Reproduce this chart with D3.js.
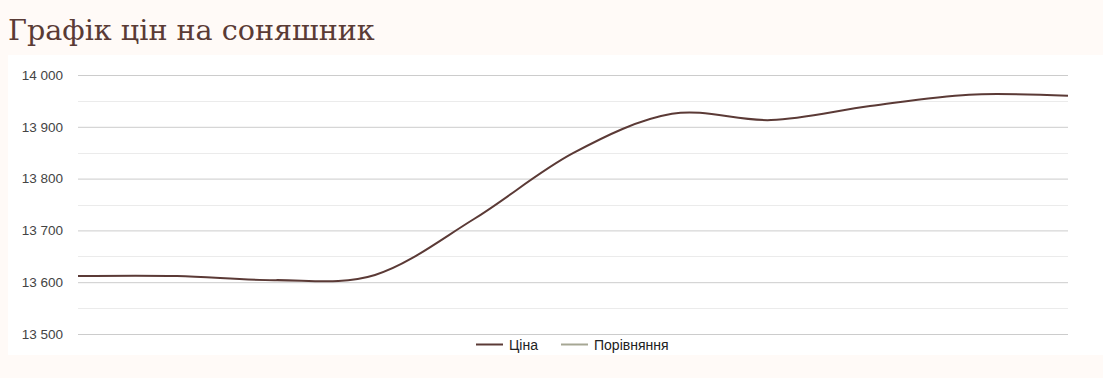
<!DOCTYPE html>
<html>
<head>
<meta charset="utf-8">
<script src="https://cdn.jsdelivr.net/npm/d3@7"></script>
<style>
  body { margin: 0; background: #fffaf7; }
  svg { display: block; }
</style>
</head>
<body>
<svg width="1103" height="378"></svg>
<script>
// price points (evenly spaced, no x labels shown)
var points = ["1", "2", "3", "4", "5", "6", "7", "8", "9", "10", "11"];
var prices = [13612, 13612, 13604, 13614, 13722, 13849, 13925, 13913, 13940, 13962, 13960];
var yTicks = [13500, 13600, 13700, 13800, 13900, 14000];
var seriesNames = ["Ціна", "Порівняння"];
var seriesColors = ["#5b3a36", "#a6a794"];

var title = "Графік цін на соняшник";

var svg = d3.select("svg");
var width = +svg.attr("width"),
    height = +svg.attr("height");

var margin = {left: 78, right: 35, top: 75, bottom: 44};

// chart panel
svg.append("rect")
    .attr("x", 8).attr("y", 55)
    .attr("width", width - 8).attr("height", 300)
    .attr("fill", "#fff");

var t = svg.append("text")
    .attr("x", 8).attr("y", 40)
    .attr("fill", "#5a3b35")
    .style("font-family", "'DejaVu Serif', serif")
    .style("font-size", "28px")
    .text(title);
// fit title to the width it has in the original
var tw = t.node().getComputedTextLength();
t.style("font-size", (28 * 367 / tw) + "px");

var x = d3.scalePoint()
    .domain(points)
    .range([margin.left, width - margin.right]);

var y = d3.scaleLinear()
    .domain([13500, 14000])
    .range([height - margin.bottom, margin.top]);

// minor gridlines
var minor = yTicks.slice(1).map(function(d) { return d - 50; });
svg.append("g").selectAll("line")
    .data(minor)
  .enter().append("line")
    .attr("x1", margin.left).attr("x2", width - margin.right)
    .attr("y1", function(d) { return Math.round(y(d)) + 0.5; })
    .attr("y2", function(d) { return Math.round(y(d)) + 0.5; })
    .attr("stroke", "#ebebeb");

// major gridlines + labels
var yAxis = d3.axisLeft(y)
    .tickValues(yTicks)
    .tickSize(-(width - margin.left - margin.right))
    .tickPadding(15)
    .tickFormat(function(d) { return d3.format(",")(d).replace(",", " "); });

var ga = svg.append("g")
    .attr("transform", "translate(" + margin.left + ",0)")
    .call(yAxis);
ga.select(".domain").remove();
ga.selectAll(".tick line").attr("stroke", "#cccccc");
ga.selectAll(".tick text")
    .attr("fill", "#444")
    .style("font-family", "'Liberation Sans', Arial, sans-serif")
    .style("font-size", "13.5px");

// price line
var line = d3.line()
    .x(function(d, i) { return x(points[i]); })
    .y(function(d) { return y(d); })
    .curve(d3.curveCardinal.tension(0));

svg.append("path")
    .datum(prices)
    .attr("d", line)
    .attr("fill", "none")
    .attr("stroke", seriesColors[0])
    .attr("stroke-width", 2);

// legend
var legendX = [476, 561];
var lg = svg.append("g").selectAll("g")
    .data(seriesNames)
  .enter().append("g")
    .attr("transform", function(d, i) { return "translate(" + legendX[i] + ",345)"; });
lg.append("line")
    .attr("x1", 0).attr("x2", 27)
    .attr("y1", -0.5).attr("y2", -0.5)
    .attr("stroke", function(d, i) { return seriesColors[i]; })
    .attr("stroke-width", 2);
lg.append("text")
    .attr("x", 33).attr("y", 5)
    .attr("fill", "#222")
    .style("font-family", "'Liberation Sans', Arial, sans-serif")
    .style("font-size", "14px")
    .text(function(d) { return d; });
</script>
</body>
</html>
